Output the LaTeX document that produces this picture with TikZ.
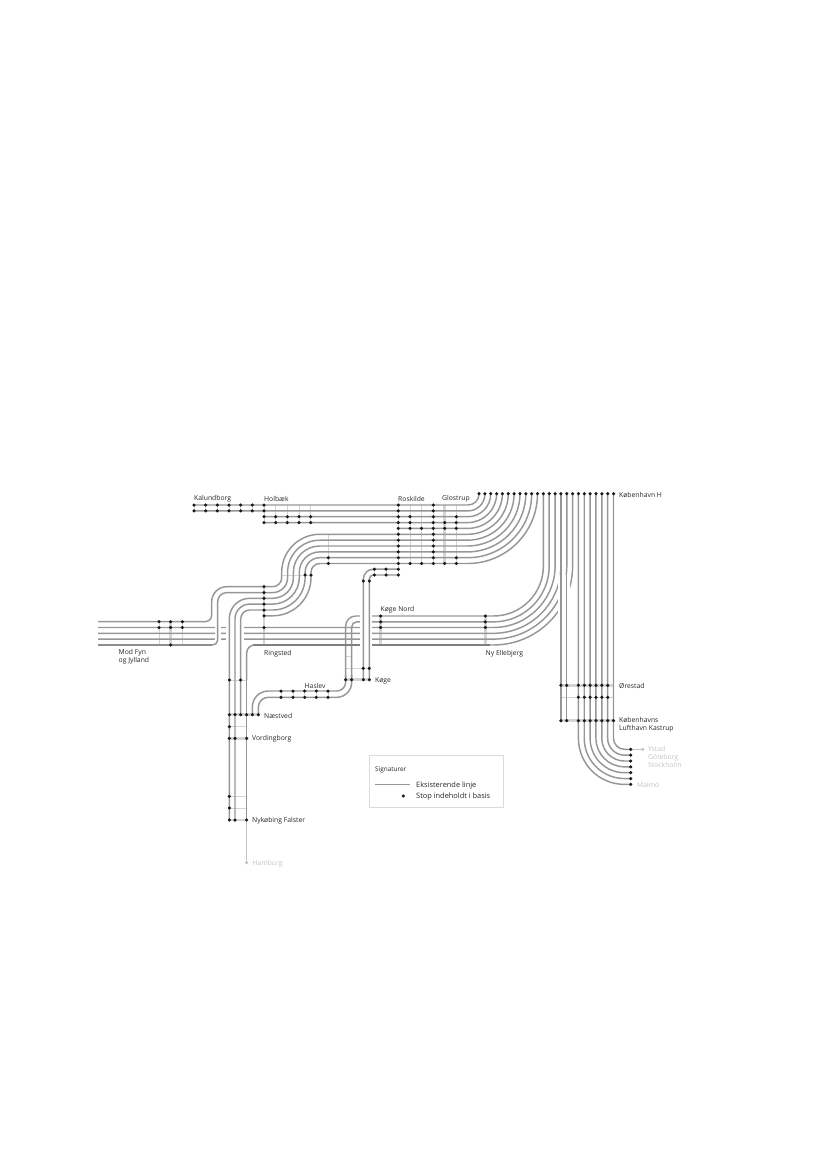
\documentclass[tikz,border=0pt]{standalone}
\usepackage{xcolor}
\usepackage{fontspec}
\setmainfont{Open Sans}
\definecolor{trackgray}{RGB}{150,150,150}
\definecolor{heavygray}{RGB}{128,128,128}
\definecolor{bargray}{RGB}{212,212,212}
\definecolor{faintgray}{RGB}{195,195,195}
\definecolor{stopblack}{RGB}{25,25,25}
\tikzset{
    track/.style={draw=trackgray, line width=1.45pt},
    heavy/.style={draw=heavygray, line width=1.7pt},
    casing/.style={draw=white, line width=6pt},
    thinbar/.style={draw=bargray, line width=0.8pt},
    widebar/.style={draw=bargray, line width=2.6pt},
    stopdot/.style={circle, fill=stopblack, inner sep=0pt, minimum size=3.5pt},
    faintdot/.style={circle, fill=faintgray, inner sep=0pt, minimum size=3.5pt},
    station/.style={anchor=west, yshift=-0.8pt, inner sep=0pt, align=left, text=black!85, font=\fontsize{6.8}{7.9}\selectfont},
    faint/.style={station, text=faintgray}
}
\newcommand{\stoprow}[3]{\foreach \x [count=\n] in {#3} {\node[stopdot] (#1\n) at (\x,#2) {};}}
\newcommand{\stopcol}[3]{\foreach \y [count=\n] in {#3} {\node[stopdot] (#1\n) at (#2,\y) {};}}

\begin{document}
\begin{tikzpicture}[x=1pt, y=-1pt]
\useasboundingbox (0,0) rectangle (827,1169);

% stop bars under the tracks
\foreach \x in {194,205.7,217.3,229,240.7,252.3,264} {\draw[thinbar] (\x,505) -- (\x,511);}
\foreach \x in {264,275.7,287.3,299,310.7} {\draw[thinbar] (\x,505) -- (\x,522.6);}
\foreach \x in {398.3,410,433.3,456.3} {\draw[thinbar] (\x,505) -- (\x,563.5);}
\draw[widebar, line width=1.6pt] (421.5,505) -- (421.5,563.5);
\draw[widebar] (444.7,505) -- (444.7,563.5);
\draw[thinbar] (398.3,563.5) -- (398.3,575);
\foreach \x in {374.3,386} {\draw[thinbar] (\x,569.2) -- (\x,575);}
\draw[thinbar] (328.3,534.3) -- (328.3,563.4);
\draw[thinbar] (281.7,575) -- (310.7,575);
\draw[widebar] (264,586.7) -- (264,645);
\draw[thinbar] (159,621.7) -- (159,645);
\draw[widebar] (170.7,621.7) -- (170.7,645);
\draw[thinbar] (182.3,621.7) -- (182.3,645);
\draw[widebar] (380.7,616) -- (380.7,645);
\draw[widebar] (485.3,616) -- (485.3,645);
\draw[thinbar] (229.3,680) -- (246.7,680);
\draw[widebar] (229.3,714.7) -- (258.3,714.7);
\draw[thinbar] (229.3,726.7) -- (246.7,726.7);
\draw[widebar] (229.3,738.3) -- (246.7,738.3);
\draw[thinbar] (229.3,796.3) -- (246.7,796.3);
\draw[thinbar] (229.3,808) -- (246.7,808);
\draw[widebar] (229.3,820) -- (246.7,820);
\foreach \x in {281,293,304.7,316.3,328} {\draw[thinbar] (\x,691) -- (\x,697.3);}
\draw[thinbar] (345.7,656.7) -- (351.7,656.7);
\draw[thinbar] (345.7,668.3) -- (369.3,668.3);
\draw[widebar] (345.7,679.7) -- (369.3,679.7);
\draw[widebar] (560.9,685.3) -- (613.5,685.3);
\draw[thinbar] (560.9,697.3) -- (613.5,697.3);
\draw[widebar] (560.9,720.7) -- (613.5,720.7);

% straight lines through Ringsted and the lines into the big bend
\foreach \i/\y in {2/627.5,3/633.3,4/639.1} {
    \pgfmathsetmacro{\xk}{543.4+5.85*\i}
    \pgfmathsetmacro{\rk}{50+5.85*\i}
    \draw[track] (98,\y) [rounded corners=\rk pt] -- (\xk,\y) -- (\xk,493.7);
}
\draw[track] (246.7,680) [rounded corners=8pt] -- (246.7,645) [rounded corners=79.2pt] -- (572.6,645) -- (572.6,493.7);
\draw[track] (351.7,680) [rounded corners=5pt] -- (351.7,621.9) [rounded corners=55.8pt] -- (549.2,621.9) -- (549.2,493.7);
\draw[track] (345.7,680) [rounded corners=10pt] -- (345.7,616) [rounded corners=50pt] -- (543.4,616) -- (543.4,493.7);

% Haslev and Naestved
\draw[track] (252.3,714.7) [rounded corners=16pt] -- (252.3,691) [rounded corners=9pt] -- (345.7,691) -- (345.7,675);
\draw[track] (258.3,714.7) [rounded corners=10pt] -- (258.3,697.3) [rounded corners=15pt] -- (351.7,697.3) -- (351.7,675);

% gaps in the horizontals where the verticals pass over
\foreach \x in {217.7,229.3,235,240.7} {\draw[casing] (\x,624.5) -- (\x,642);}
\foreach \x in {363.3,369.3} {\draw[casing] (\x,612) -- (\x,649);}
\foreach \x in {560.9,566.7} {\draw[casing] (\x,575) -- (\x,660);}

% heavy lower line
\draw[heavy] (98,645) -- (212,645);
\draw[heavy] (253,645) -- (360.3,645);
\draw[heavy] (372.3,645) -- (490,645);

% top block, eleven lines into the head of the station
\draw[track] (193,505) [rounded corners=11pt] -- (479,505) -- (479,493.7);
\draw[track] (193,510.9) [rounded corners=16.9pt] -- (484.9,510.9) -- (484.9,493.7);
\draw[track] (264,516.7) [rounded corners=22.7pt] -- (490.7,516.7) -- (490.7,493.7);
\draw[track] (264,522.6) [rounded corners=28.9pt] -- (496.6,522.6) -- (496.6,493.7);
\draw[track] (398.3,528.4) [rounded corners=34.7pt] -- (502.4,528.4) -- (502.4,493.7);
\draw[track] (98,621.7) [rounded corners=6.7pt] -- (211.7,621.7) [rounded corners=15pt] -- (211.7,586.7) [rounded corners=9pt] -- (281.7,586.7) [rounded corners=38pt] -- (281.7,534.3) [rounded corners=40.6pt] -- (508.3,534.3) -- (508.3,493.7);
\draw[track] (98,645) [rounded corners=5pt] -- (217.7,645) [rounded corners=9pt] -- (217.7,592.6) [rounded corners=14.9pt] -- (287.6,592.6) [rounded corners=32.1pt] -- (287.6,540.2) [rounded corners=46.5pt] -- (514.1,540.2) -- (514.1,493.7);
\draw[track] (229.3,820) [rounded corners=20.4pt] -- (229.3,598.3) [rounded corners=20.7pt] -- (293.4,598.3) [rounded corners=26.3pt] -- (293.4,546) [rounded corners=52.3pt] -- (520,546) -- (520,493.7);
\draw[track] (235,820) [rounded corners=14.7pt] -- (235,604.1) [rounded corners=26.6pt] -- (299.3,604.1) [rounded corners=20.4pt] -- (299.3,551.9) [rounded corners=58.2pt] -- (525.8,551.9) -- (525.8,493.7);
\draw[track] (240.7,714.7) [rounded corners=9pt] -- (240.7,610) [rounded corners=32.4pt] -- (305.1,610) [rounded corners=14.6pt] -- (305.1,557.7) [rounded corners=64pt] -- (531.7,557.7) -- (531.7,493.7);
\draw[track] (264,615.8) [rounded corners=38.3pt] -- (311,615.8) [rounded corners=8.8pt] -- (311,563.5) [rounded corners=69.8pt] -- (537.5,563.5) -- (537.5,493.7);

% Koege branch up to Roskilde
\draw[track] (363.3,679.7) [rounded corners=10pt] -- (363.3,569.2) -- (398.3,569.2);
\draw[track] (369.3,679.7) [rounded corners=4pt] -- (369.3,575) -- (398.3,575);

% Vordingborg line, Hamburg and the two short verticals
\draw[faintgray, line width=1.25pt] (246.7,820) -- (246.7,862.7);
\draw[track] (246.7,675) -- (246.7,820);
\foreach \x in {560.9,566.7} {\draw[track] (\x,493.7) -- (\x,720.7);}

% lines down and round to Malmoe
\foreach \k in {0,...,6} {
    \pgfmathsetmacro{\xk}{613.5-5.85*\k}
    \pgfmathsetmacro{\yk}{749.3+5.85*\k}
    \pgfmathsetmacro{\rk}{11+5.85*\k}
    \draw[track] (\xk,493.7) [rounded corners=\rk pt] -- (\xk,\yk) -- (630.7,\yk);
}
\draw[faintgray, line width=1.1pt] (630.7,749.3) -- (642.7,749.3);

% stops
\foreach \k in {0,...,23} {
    \pgfmathsetmacro{\xk}{479+5.85*\k}
    \node[stopdot] (kbh\k) at (\xk,493.7) {};
}
\stoprow{kalA}{505}{194,205.7,217.3,229,240.7,252.3,264}
\stoprow{kalB}{510.9}{194,205.7,217.3,229,240.7,252.3,264}
\stoprow{holA}{516.7}{264,275.7,287.3,299,310.7}
\stoprow{holB}{522.6}{264,275.7,287.3,299,310.7}
\stopcol{rosA}{398.3}{505,510.9,516.7,522.6,528.4,534.3,540.2,546,551.9,557.7,563.5,569.2,575}
\stopcol{rosB}{410}{516.7,522.6,528.4,563.5}
\stopcol{rosC}{421.5}{528.4,563.5}
\stopcol{rosD}{433.3}{505,510.9,516.7,522.6,528.4,534.3,540.2,546,551.9,557.7,563.5}
\stopcol{glo}{444.7}{522.6,528.4,563.5}
\stopcol{gloB}{456.3}{516.7,522.6,528.4,557.7,563.5}
\stopcol{sve}{328.3}{557.7,563.5}
\stoprow{bend}{575}{305.1,311}
\stopcol{rin}{264}{586.7,592.6,598.3,604.1,610,615.8,627.5}
\stopcol{fynA}{159}{621.7,627.5}
\stopcol{fynB}{170.7}{621.7,627.5,645}
\stopcol{fynC}{182.3}{621.7,627.5}
\stoprow{rbA}{569.2}{374.3,386}
\stoprow{rbB}{575}{374.3,386}
\stoprow{rbC}{581}{363.3,369.3}
\stopcol{kon}{380.7}{616,621.9,627.5}
\stopcol{nye}{485.3}{616,621.9,627.5}
\stoprow{koeA}{668.3}{363.3,369.3}
\stoprow{koeB}{679.7}{345.7,351.7,363.3,369.3}
\stoprow{hasA}{691}{281,293,304.7,316.3,328}
\stoprow{hasB}{697.3}{281,293,304.7,316.3,328}
\stoprow{vorA}{680}{229.3,240.7}
\stoprow{nae}{714.7}{229.3,235,240.7,246.7,252.3,258.3}
\stoprow{vorB}{726.7}{229.3}
\stoprow{vor}{738.3}{229.3,235,246.7}
\stoprow{nykA}{796.3}{229.3}
\stoprow{nykB}{808}{229.3}
\stoprow{nyk}{820}{229.3,235,246.7}
\stoprow{ore}{685.3}{560.9,566.7,578.4,584.3,590.1,596,601.8,607.7}
\stoprow{oreB}{697.3}{578.4,584.3,590.1,596,601.8,607.7}
\stoprow{cph}{720.7}{560.9,566.7,578.4,584.3,590.1,596,601.8,607.7,613.5}
\stopcol{mal}{630.7}{749.3,755.2,761,766.9,772.7,778.6,784.4}
\node[faintdot] (ysd) at (642.7,749.3) {};
\node[faintdot] (hbg) at (246.7,862.7) {};

% station names
\node[station] (kalundborg) at (194,498) {Kalundborg};
\node[station] (holbaek) at (264,498) {Holbæk};
\node[station] (roskilde) at (398,498) {Roskilde};
\node[station] (glostrup) at (442,498) {Glostrup};
\node[station] (kobenhavn) at (619,494) {København H};
\node[station] (modfyn) at (118.5,656) {Mod Fyn\\og Jylland};
\node[station] (ringsted) at (264,652.5) {Ringsted};
\node[station] (koegenord) at (380.5,609) {Køge Nord};
\node[station] (ellebjerg) at (485.5,652.5) {Ny Ellebjerg};
\node[station] (koege) at (375,680) {Køge};
\node[station] (haslev) at (304.5,685) {Haslev};
\node[station] (naestved) at (264,715) {Næstved};
\node[station] (vordingborg) at (252,738) {Vordingborg};
\node[station] (falster) at (252,820) {Nykøbing Falster};
\node[faint] (hamburg) at (252.5,863) {Hamburg};
\node[station] (orestad) at (619,685) {Ørestad};
\node[station] (kastrup) at (619,724) {Københavns\\Lufthavn Kastrup};
\node[faint] (ystad) at (648,756.5) {Ystad\\Göteborg\\Stockholm};
\node[faint] (malmo) at (637,784) {Malmö};

% legend
\node[draw=black!14, line width=0.8pt, minimum width=134pt, minimum height=52.7pt, inner sep=0pt] (legend) at (436.2,781.3) {};
\node[station, font=\fontsize{6.4}{7}\selectfont] (signaturer) at (375,769.5) {Signaturer};
\coordinate (keyleft) at (375,784.3);
\coordinate (keyright) at (410,784.3);
\draw[track] (keyleft) -- (keyright);
\node[station, font=\fontsize{7.4}{8}\selectfont] (keyline) at (416,784.3) {Eksisterende linje};
\node[stopdot] (keydot) at (403.3,796) {};
\node[station, font=\fontsize{7.4}{8}\selectfont] (keystop) at (416,796) {Stop indeholdt i basis};
\end{tikzpicture}
\end{document}
